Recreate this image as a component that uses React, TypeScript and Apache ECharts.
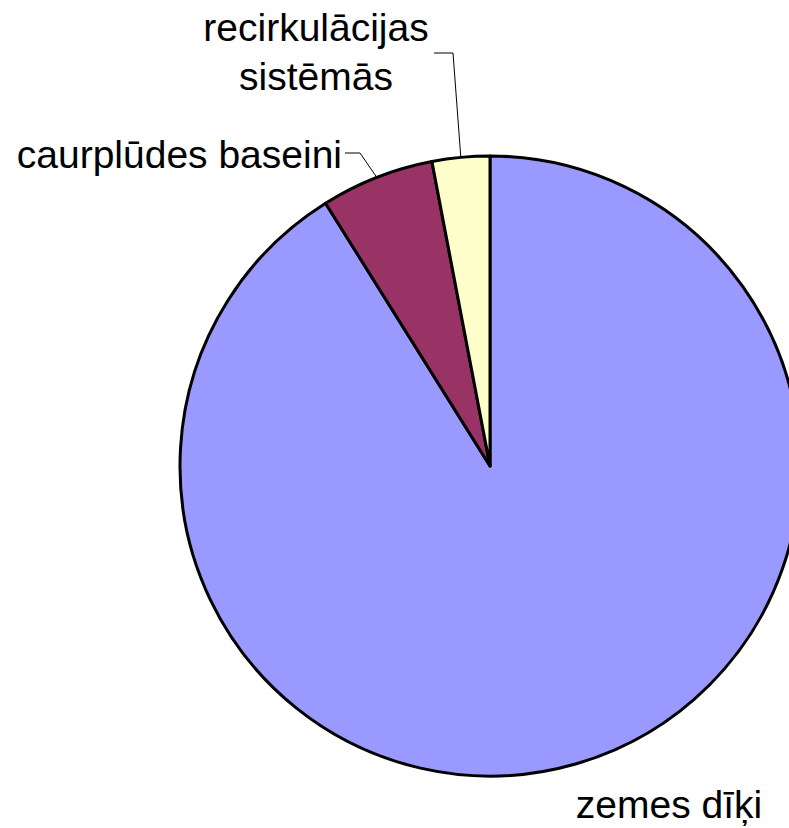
import React, { useEffect, useRef } from "react";
import * as echarts from "echarts";

const categories = ["zemes dīķi", "caurplūdes baseini", "recirkulācijas\nsistēmās"];
const values = [91.1, 5.9, 3.0];
const colors = ["#9999FF", "#993366", "#FFFFCC"];

const CX = 490;
const CY = 466;
const R = 310;

function edgePoint(i: number): number[] {
  const total = values.reduce((a, b) => a + b, 0);
  let before = 0;
  for (let k = 0; k < i; k++) before += values[k];
  const mid = ((before + values[i] / 2) / total) * 2 * Math.PI; // clockwise from top
  return [CX + R * Math.sin(mid), CY - R * Math.cos(mid)];
}

export default function App() {
  const ref = useRef<HTMLDivElement>(null);
  useEffect(() => {
    document.body.style.margin = "0";
    if (!ref.current) return;
    const chart = echarts.init(ref.current, undefined, { renderer: "svg" });
    chart.setOption({
      animation: false,
      backgroundColor: "#ffffff",
      series: [
        {
          type: "pie",
          center: [CX, CY],
          radius: [0, R],
          startAngle: 90,
          clockwise: true,
          avoidLabelOverlap: false,
          itemStyle: { borderColor: "#000000", borderWidth: 3 },
          label: {
            show: true,
            position: "outside",
            color: "#000000",
            fontFamily: "Liberation Sans, Arial, sans-serif",
            fontSize: 39,
            lineHeight: 49,
          },
          labelLine: {
            show: true,
            length: 20,
            length2: 15,
            lineStyle: { color: "#000000", width: 1 },
          },
          labelLayout: (params: any) => {
            const i = params.dataIndex;
            if (i === 0) {
              return { x: 669, y: 804, align: "center", verticalAlign: "middle" };
            }
            if (i === 1) {
              return {
                x: 342,
                y: 154,
                align: "right",
                verticalAlign: "middle",
                labelLinePoints: [edgePoint(1), [360, 153], [345, 153]],
              };
            }
            return {
              x: 316,
              y: 52,
              align: "center",
              verticalAlign: "middle",
              labelLinePoints: [edgePoint(2), [453, 53], [434, 53]],
            };
          },
          data: categories.map((name, i) => ({
            name,
            value: values[i],
            itemStyle: { color: colors[i] },
            labelLine: { show: i !== 0 },
          })),
        },
      ],
    });
    return () => chart.dispose();
  }, []);
  return <div ref={ref} style={{ width: 789, height: 828 }} />;
}
